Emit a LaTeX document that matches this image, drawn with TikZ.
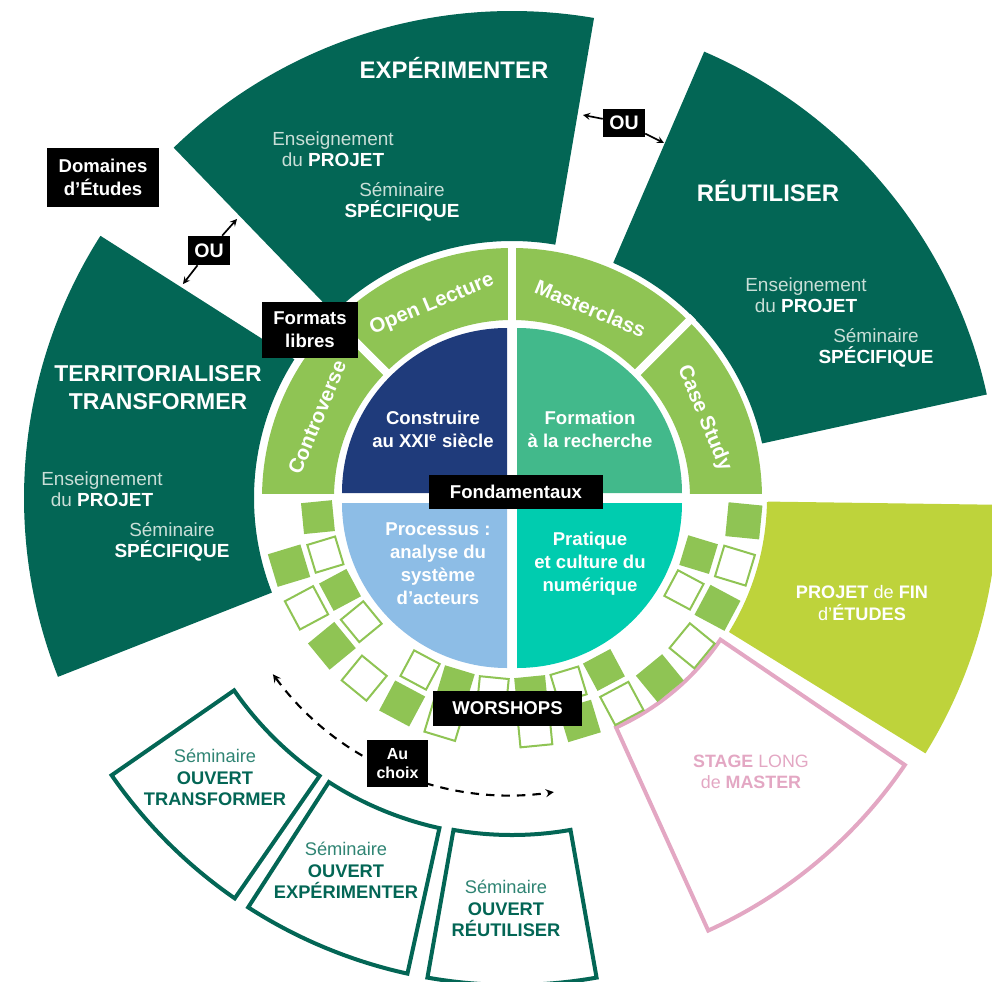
\documentclass[tikz,border=0pt]{standalone}
\usepackage{fontspec}
\setmainfont{Liberation Sans}
\usetikzlibrary{arrows,positioning,calc}

\definecolor{darkgreen}{HTML}{036655}
\definecolor{ringgreen}{HTML}{8FC454}
\definecolor{navy}{HTML}{1F3B7B}
\definecolor{formgreen}{HTML}{42B98B}
\definecolor{skyblue}{HTML}{8DBDE6}
\definecolor{aqua}{HTML}{00CCAF}
\definecolor{lime}{HTML}{BED33B}
\definecolor{pinkline}{HTML}{E3A7C3}
\definecolor{paletext}{HTML}{C9DED7}
\definecolor{semtext}{HTML}{2F8473}

\newcommand{\fs}[2]{\fontsize{#1}{#2}\selectfont}
\newcommand{\bw}[1]{\textcolor{white}{\textbf{#1}}}

\begin{document}
\begin{tikzpicture}[x=0.025cm,y=0.025cm,>=stealth,
  every node/.style={inner sep=0pt,align=center},
  sector/.style n args={4}{insert path={(#1:#3) arc[start angle=#1,end angle=#2,radius=#3] -- (#2:#4) arc[start angle=#2,end angle=#1,radius=#4] -- cycle}},
  title/.style={text=white,font=\fs{17}{20}\bfseries},
  lighttxt/.style={text=paletext,font=\fs{13.5}{15}},
  quadtxt/.style={text=white,font=\fs{13.2}{16.4}\bfseries},
  ringtxt/.style={text=white,font=\fs{14.6}{16}\bfseries},
  ouvtxt/.style={text=darkgreen,font=\fs{13}{15.3}},
  tag/.style={fill=black,text=white,font=\fs{13.2}{16.2}\bfseries},
  sqfull/.style={fill=ringgreen},
  sqopen/.style={draw=ringgreen,fill=white,line width=0.05cm}]
\useasboundingbox (-512,-483) rectangle (480,498);
\clip (-512,-483) rectangle (480,498);

% domaines d'etudes
\fill[darkgreen, sector={80.3}{134}{257}{487}];
\fill[darkgreen, sector={12.3}{66.7}{256}{486}];
\fill[darkgreen, sector={147.5}{201.5}{258}{488}];
\fill[lime, sector={-31.7}{-0.8}{255}{486}];
\draw[pinkline, line width=0.1cm, line join=miter, sector={-65.6}{-34.2}{252}{475}];

% seminaires ouverts
\draw[darkgreen, line width=0.1cm, sector={214.7}{235.3}{338}{487}];
\draw[darkgreen, line width=0.1cm, sector={237.2}{257.6}{338}{487}];
\draw[darkgreen, line width=0.1cm, sector={260}{280}{337}{487}];

% formats libres
\fill[ringgreen, sector={0}{180}{178}{250}];
\foreach \a in {45,90,135}
  \draw[white, line width=0.2cm] (\a:170) -- (\a:256);
\draw[white, line width=0.2cm] (-256,0) -- (256,0);

% fondamentaux
\fill[navy] (-5,5) -- ++(-165,0) arc[start angle=180,end angle=90,radius=165] -- cycle;
\fill[formgreen] (5,5) -- ++(0,165) arc[start angle=90,end angle=0,radius=165] -- cycle;
\fill[skyblue] (-5,-5) -- ++(0,-165) arc[start angle=270,end angle=180,radius=165] -- cycle;
\fill[aqua] (5,-5) -- ++(165,0) arc[start angle=0,end angle=-90,radius=165] -- cycle;

% workshops
\foreach \a in {185.625,208.125,253.125,275.625,298.125,343.125}
  \fill[sqfull, rotate=\a] (179.5,-15.5) rectangle ++(31,31);
\foreach \a in {196.875,219.375,241.875,264.375,286.875,331.875}
  \draw[sqopen, rotate=\a] (180.5,-14.5) rectangle ++(29,29);
\foreach \a in {196.875,219.375,241.875,286.875,309.375,331.875,354.375}
  \fill[sqfull, rotate=\a] (216,-17) rectangle ++(34,34);
\foreach \a in {208.125,230.625,253.125,275.625,298.125,320.625,343.125}
  \draw[sqopen, rotate=\a] (217,-16) rectangle ++(32,32);

% textes des secteurs
\node[title] (expTitle) at (-58,430) {EXPÉRIMENTER};
\node[lighttxt] (expProj) at (-179,349) {Enseignement\\du \bw{PROJET}};
\node[lighttxt] (expSem) at (-110,296) {Séminaire\\\bw{SPÉCIFIQUE}};
\node[title] (reuTitle) at (256,307) {RÉUTILISER};
\node[lighttxt] (reuProj) at (294,203) {Enseignement\\du \bw{PROJET}};
\node[lighttxt] (reuSem) at (364,150) {Séminaire\\\bw{SPÉCIFIQUE}};
\node[title,font=\fs{16.3}{20.2}\bfseries] (terTitle) at (-354,110.5) {TERRITORIALISER\\TRANSFORMER};
\node[lighttxt] (terProj) at (-410,9) {Enseignement\\du \bw{PROJET}};
\node[lighttxt] (terSem) at (-340,-44) {Séminaire\\\bw{SPÉCIFIQUE}};
\node[text=white,font=\fs{12.9}{15}] (pfe) at (350,-105) {\textbf{PROJET} de \textbf{FIN}\\d’\textbf{ÉTUDES}};
\node[text=pinkline,font=\fs{12.7}{15}] (stage) at (239,-274) {\textbf{STAGE} LONG\\de \textbf{MASTER}};
\node[ouvtxt] (ouvTra) at (-297,-279.5) {\textcolor{semtext}{Séminaire}\\\textbf{OUVERT}\\\textbf{TRANSFORMER}};
\node[ouvtxt] (ouvExp) at (-166,-372.5) {\textcolor{semtext}{Séminaire}\\\textbf{OUVERT}\\\textbf{EXPÉRIMENTER}};
\node[ouvtxt] (ouvReu) at (-6,-410.5) {\textcolor{semtext}{Séminaire}\\\textbf{OUVERT}\\\textbf{RÉUTILISER}};

% anneau et quartiers
\node[ringtxt, rotate=67.5] (controverse) at (157.5:211) {Controverse};
\node[ringtxt, rotate=22.5] (openLec) at (112.5:209) {Open Lecture};
\node[ringtxt, rotate=-22.5] (masterclass) at (67.5:205) {Masterclass};
\node[ringtxt, rotate=-67.5] (caseStudy) at (22.5:208) {Case Study};
\node[quadtxt] (construire) at (-79,69) {Construire\\au XXI\textsuperscript{e} siècle};
\node[quadtxt] (formation) at (78,69) {Formation\\à la recherche};
\node[quadtxt] (processus) at (-74,-66) {Processus :\\analyse du\\système\\d’acteurs};
\node[quadtxt] (pratique) at (78,-66) {Pratique\\et culture du\\numérique};

% etiquettes
\node[tag, minimum width=2.8cm, minimum height=1.475cm] (domaines) at (-409,320.5) {Domaines\\d’Études};
\node[tag, minimum width=2.4cm, minimum height=1.4cm] (formats) at (-202,168) {Formats\\libres};
\node[tag, minimum width=4.35cm, minimum height=0.85cm] (fondamentaux) at (4,6) {Fondamentaux};
\node[tag, minimum width=3.725cm, minimum height=0.875cm] (worshops) at (-4.5,-210.5) {WORSHOPS};
\node[tag, font=\fs{13.9}{16}\bfseries, minimum width=1.05cm, minimum height=0.725cm] (ouA) at (-303,247.5) {OU};
\node[tag, font=\fs{13.9}{16}\bfseries, minimum width=1.05cm, minimum height=0.7cm] (ouB) at (112,375) {OU};

% fleches
\coordinate (ouAtop) at (-275,279);
\coordinate (ouAbot) at (-329,214);
\coordinate (ouBleft) at (71,383);
\coordinate (ouBright) at (152,355);
\draw[->, line width=1.2pt] (ouA) -- (ouAtop);
\draw[->, line width=1.2pt] (ouA) -- (ouAbot);
\draw[->, line width=1.2pt] (ouB) -- (ouBleft);
\draw[->, line width=1.2pt] (ouB) -- (ouBright);
\coordinate (choixA) at (216.4:297);
\coordinate (choixB) at (278.1:297);
\draw[<->, line width=1.5pt, dash pattern=on 6pt off 5pt] (choixA) to[bend right=31, looseness=0.92] (choixB);
\node[tag, font=\fs{11.4}{13.5}\bfseries, minimum width=1.525cm, minimum height=1.175cm] (auchoix) at (-114.5,-265.5) {Au\\choix};
\end{tikzpicture}
\end{document}
